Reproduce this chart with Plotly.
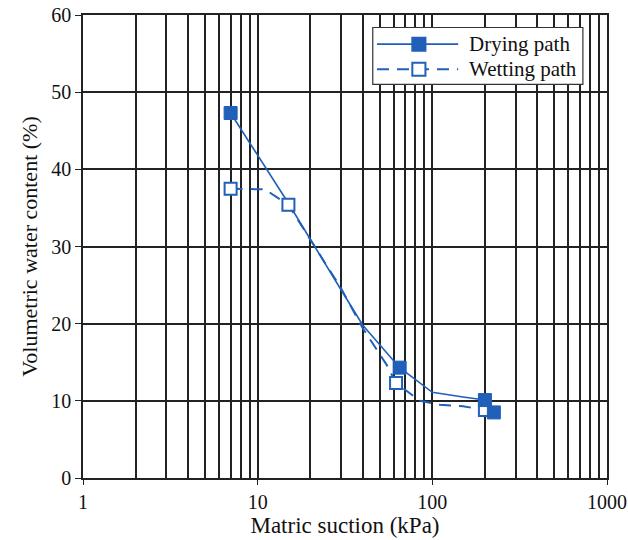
import plotly.graph_objects as go

# Drying path (line through read points; markers at measured points)
drying_line_x = [7, 15, 30, 40, 65, 100, 150, 200, 225]
drying_line_y = [47.3, 35.6, 24.4, 19.8, 14.3, 11.1, 10.5, 10.1, 8.5]
drying_pts_x = [7, 65, 200, 225]
drying_pts_y = [47.3, 14.3, 10.1, 8.5]

# Wetting path
wetting_line_x = [7, 11, 15, 30, 40, 55, 62, 85, 110, 150, 200]
wetting_line_y = [37.5, 37.4, 35.4, 24.6, 19.4, 14.6, 12.3, 10.0, 9.5, 9.3, 8.8]
wetting_pts_x = [7, 15, 62, 200]
wetting_pts_y = [37.5, 35.4, 12.3, 8.8]

series_names = ["Drying path", "Wetting path"]

x_ticks = [1, 10, 100, 1000]
x_minor = [2, 3, 4, 5, 6, 7, 8, 9, 20, 30, 40, 50, 60, 70, 80, 90,
           200, 300, 400, 500, 600, 700, 800, 900]
y_ticks = [0, 10, 20, 30, 40, 50, 60]

BLUE = "#2060b8"
GRID = "#222222"
FONT = "Times New Roman, Liberation Serif, DejaVu Serif, serif"
DASH = "12px,8px"

fig = go.Figure()

fig.add_trace(go.Scatter(x=wetting_line_x, y=wetting_line_y, mode="lines",
                         line=dict(color=BLUE, width=2, dash=DASH),
                         showlegend=False, hoverinfo="skip"))
fig.add_trace(go.Scatter(x=drying_line_x, y=drying_line_y, mode="lines",
                         line=dict(color=BLUE, width=1.6),
                         showlegend=False, hoverinfo="skip"))
fig.add_trace(go.Scatter(x=wetting_pts_x, y=wetting_pts_y, mode="markers",
                         marker=dict(symbol="square", size=12, color="white",
                                     line=dict(color=BLUE, width=2)),
                         showlegend=False))
fig.add_trace(go.Scatter(x=drying_pts_x, y=drying_pts_y, mode="markers",
                         marker=dict(symbol="square", size=13, color=BLUE,
                                     line=dict(color=BLUE, width=1)),
                         showlegend=False))

# ---- hand-drawn legend (paper coordinates) ----
shapes = []
annotations = []
box = dict(x0=0.553, x1=0.954, y0=0.850, y1=0.973)
shapes.append(dict(type="rect", xref="paper", yref="paper", **box,
                   fillcolor="white", line=dict(color="#333333", width=1.2), layer="above"))
rows_y = [0.937, 0.883]
lx0, lx1, mx = 0.561, 0.716, 0.641
hx, hy = 0.0125, 0.0140
for i, (name, ry) in enumerate(zip(series_names, rows_y)):
    dash = "solid" if i == 0 else DASH
    shapes.append(dict(type="line", xref="paper", yref="paper", x0=lx0, x1=lx1, y0=ry, y1=ry,
                       line=dict(color=BLUE, width=1.6 if i == 0 else 2, dash=dash), layer="above"))
    shapes.append(dict(type="rect", xref="paper", yref="paper",
                       x0=mx - hx, x1=mx + hx, y0=ry - hy, y1=ry + hy,
                       fillcolor=BLUE if i == 0 else "white",
                       line=dict(color=BLUE, width=2), layer="above"))
    annotations.append(dict(xref="paper", yref="paper", x=0.733, y=ry, xanchor="left",
                            yanchor="middle", text=name, showarrow=False,
                            font=dict(family=FONT, size=21, color="#111111")))

fig.update_layout(
    width=628, height=540,
    margin=dict(l=83, r=21, t=15, b=62, autoexpand=False),
    paper_bgcolor="white", plot_bgcolor="white",
    font=dict(family=FONT, size=20, color="#111111"),
    showlegend=False,
    shapes=shapes, annotations=annotations,
    xaxis=dict(type="log", range=[0, 3], automargin=False,
               tickvals=x_ticks, ticktext=[str(v) for v in x_ticks],
               showgrid=True, gridcolor=GRID, gridwidth=1.5,
               minor=dict(tickvals=x_minor, showgrid=True, gridcolor=GRID, gridwidth=1.5,
                          ticks=""),
               ticks="outside", ticklen=5, tickcolor=GRID,
               showline=True, linecolor=GRID, linewidth=1.5, mirror=True,
               zeroline=False,
               title=dict(text="Matric suction (kPa)", font=dict(family=FONT, size=23),
                          standoff=4),
               tickfont=dict(family=FONT, size=20)),
    yaxis=dict(range=[0, 60], tickvals=y_ticks, automargin=False,
               showgrid=True, gridcolor=GRID, gridwidth=1.5,
               ticks="outside", ticklen=6, tickcolor=GRID,
               showline=True, linecolor=GRID, linewidth=1.5, mirror=True,
               zeroline=False,
               title=dict(text="Volumetric water content (%)", font=dict(family=FONT, size=22),
                          standoff=8),
               tickfont=dict(family=FONT, size=20)),
)

fig.write_html("out.html")
